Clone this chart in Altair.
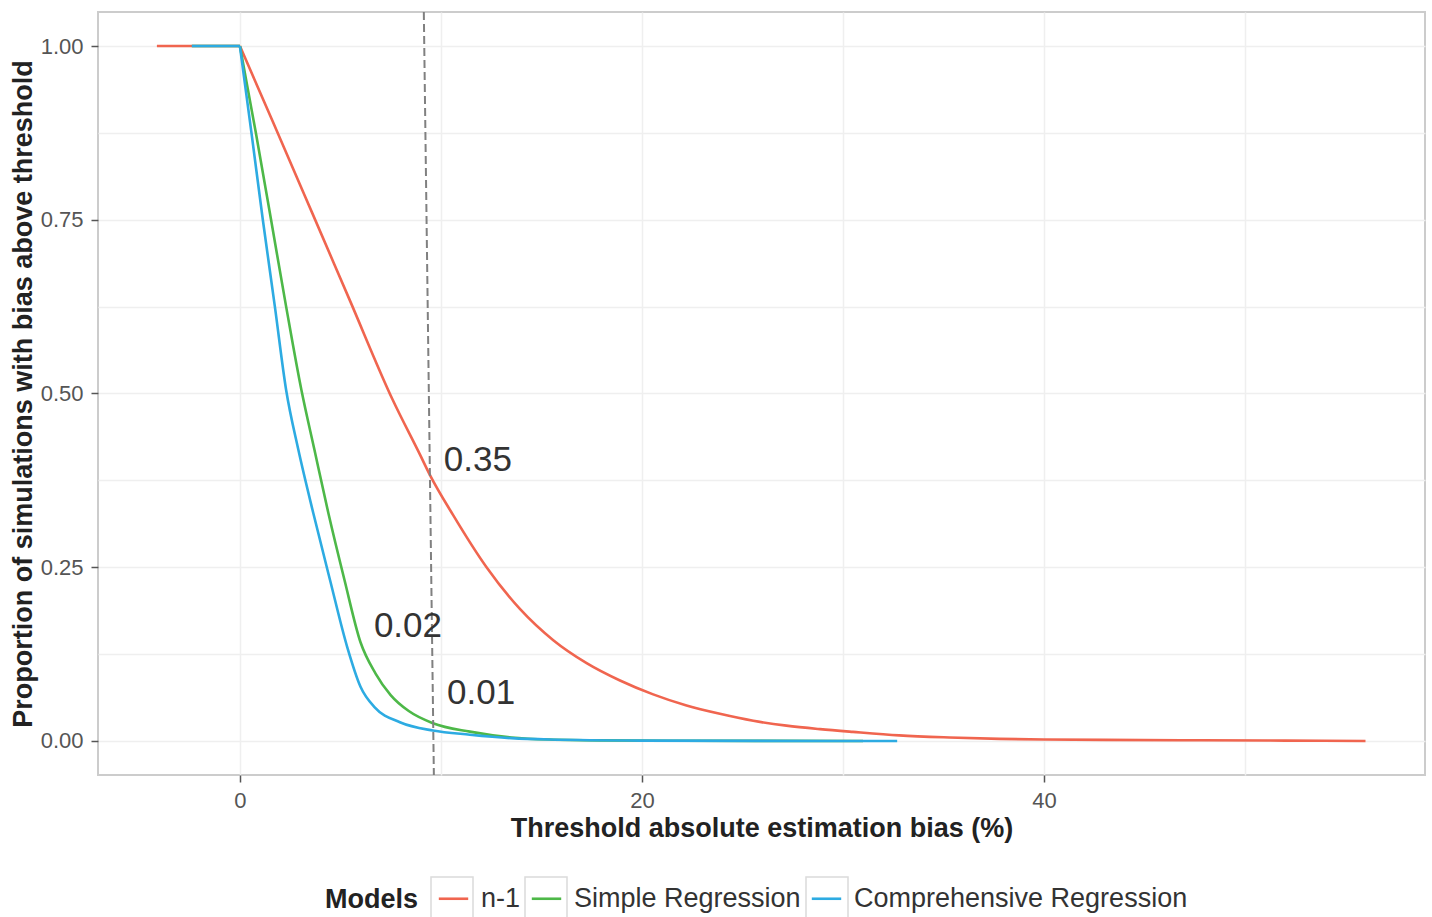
import altair as alt
import pandas as pd

# ---------------- data ----------------
models = ["n-1", "Simple Regression", "Comprehensive Regression"]
model_colors = ["#F0654F", "#4DB848", "#2DABE2"]

n1_x = [-4.13, 0, 1.64, 3.58, 5.47, 7.6, 8.96, 9.45, 10.61, 12.27, 13.93, 15.59,
        17.25, 18.91, 20.56, 22.22, 23.88, 25.54, 27.19, 28.86, 30.5, 32.8, 35.3,
        37.8, 40, 43, 47.8, 52, 56]
n1_y = [1, 1, 0.891, 0.761, 0.634, 0.491, 0.412, 0.383, 0.325, 0.250, 0.190, 0.145,
        0.112, 0.087, 0.067, 0.051, 0.039, 0.029, 0.022, 0.017, 0.013, 0.008, 0.005,
        0.003, 0.002, 0.0015, 0.001, 0.0005, 0.0]

sr_x = [-2.39, 0, 0.8, 1.55, 2.3, 3.06, 3.7, 4.4, 5.2, 6.0, 6.75, 7.5, 8.4, 9.6,
        11.44, 13.5, 15.4, 18, 22, 26, 31]
sr_y = [1, 1, 0.874, 0.75, 0.625, 0.505, 0.42, 0.328, 0.232, 0.142, 0.097, 0.066,
        0.043, 0.0255, 0.0134, 0.005, 0.002, 0.0008, 0.0003, 0.0001, 0.0]

cr_x = [-2.39, 0, 0.58, 1.14, 1.74, 2.3, 2.9, 3.65, 4.48, 5.35, 6.0, 6.72, 7.96,
        9.6, 11.44, 13.5, 15.4, 20, 26, 32.7]
cr_y = [1, 1, 0.874, 0.75, 0.625, 0.505, 0.42, 0.328, 0.232, 0.134, 0.078, 0.048,
        0.027, 0.015, 0.009, 0.004, 0.002, 0.0005, 0.0001, 0.0]

# dashed threshold line (top end, bottom end)
thr_x = [9.15, 9.65]
thr_y = [1.049, -0.049]

# annotations
note_text = ["0.35", "0.02", "0.01"]
note_x = [11.84, 8.36, 12.0]
note_y = [0.404, 0.165, 0.069]

x_domain = [-7.06, 58.96]
y_domain = [-0.049, 1.049]
x_grid_values = [0, 10, 20, 30, 40, 50]
y_grid_values = [0, 0.125, 0.25, 0.375, 0.5, 0.625, 0.75, 0.875, 1.0]

# ---------------- tables ----------------
rows = []
for name, xs, ys in zip(models, [n1_x, sr_x, cr_x], [n1_y, sr_y, cr_y]):
    for i, (xv, yv) in enumerate(zip(xs, ys)):
        # the flat run before x = 0 and the falling curve are drawn as two pieces
        if i <= 1:
            rows.append({"model": name, "x": xv, "y": yv, "i": i, "seg": "flat"})
        if i >= 1:
            rows.append({"model": name, "x": xv, "y": yv, "i": i, "seg": "curve"})
curves = pd.DataFrame(rows)

thr = pd.DataFrame({"x": [thr_x[0]], "x2": [thr_x[1]], "y": [thr_y[0]], "y2": [thr_y[1]]})
notes = pd.DataFrame({"text": note_text, "x": note_x, "y": note_y})

FONT = "Liberation Sans"
BOX_PATH = "M-1,-1H1V1H-1Z"
LINE_PATH = "M-0.7,0H0.7"
KEY_SIZE = 1764
LEG_X = 227
LEG_Y = 864
TITLE_W = 93      # width of the bold "Models" legend title
TITLE_PAD = 12

x_scale = alt.Scale(domain=x_domain, nice=False, zero=False)
y_scale = alt.Scale(domain=y_domain, nice=False, zero=False)

x_axis = alt.Axis(
    values=x_grid_values,
    labelExpr="datum.value % 20 === 0 ? format(datum.value, 'd') : ''",
    tickOpacity={"condition": {"test": "datum.value % 20 !== 0", "value": 0}, "value": 1},
    title="Threshold absolute estimation bias (%)",
    titlePadding=4,
)
y_axis = alt.Axis(
    values=y_grid_values,
    labelExpr="(datum.value * 4) % 1 !== 0 ? '' : format(datum.value, '.2f')",
    tickOpacity={"condition": {"test": "(datum.value * 4) % 1 !== 0", "value": 0}, "value": 1},
    title="Proportion of simulations with bias above threshold",
    titlePadding=3,
)

legend_common = dict(
    orient="none",
    legendY=LEG_Y,
    direction="horizontal",
    labelFontSize=27,
    labelLimit=0,
    labelOffset=5,
    columnPadding=3,
    symbolSize=KEY_SIZE,
)

lines = alt.Chart(curves).mark_line(strokeWidth=2.6, clip=True, interpolate="monotone").encode(
    x=alt.X("x:Q", scale=x_scale, axis=x_axis),
    y=alt.Y("y:Q", scale=y_scale, axis=y_axis),
    color=alt.Color(
        "model:N",
        scale=alt.Scale(domain=models, range=model_colors),
        sort=models,
        legend=alt.Legend(
            title="Models",
            legendX=LEG_X,
            titleOrient="left",
            titleAnchor="middle",
            titleBaseline="line-top",
            titleLineHeight=12,
            titleFontSize=27,
            titleFontWeight="bold",
            titlePadding=TITLE_PAD,
            titleColor="#222222",
            labelColor="#333333",
            symbolType=LINE_PATH,
            symbolStrokeWidth=2.6,
            **legend_common,
        ),
    ),
    detail="seg:N",
    order="i:Q",
)

# legend key boxes (empty layer, only its legend is drawn)
box_domain = [m + " " for m in models]
boxes = alt.Chart(curves).transform_filter("false").transform_calculate(
    box="datum.model + ' '"
).mark_point(filled=False, color="#cccccc", size=KEY_SIZE).encode(
    x="x:Q",
    y="y:Q",
    shape=alt.Shape(
        "box:N",
        scale=alt.Scale(domain=box_domain, range=[BOX_PATH] * len(models)),
        sort=box_domain,
        legend=alt.Legend(
            title=None,
            legendX=LEG_X + TITLE_W + TITLE_PAD,
            labelColor="transparent",
            labelExpr="trim(datum.label)",
            symbolType=BOX_PATH,
            symbolFillColor="transparent",
            symbolStrokeColor="#cccccc",
            symbolStrokeWidth=1.5,
            **legend_common,
        ),
    ),
)

rule = alt.Chart(thr).mark_rule(color="#808080", strokeWidth=2, strokeDash=[8, 4]).encode(
    x="x:Q", x2="x2:Q", y="y:Q", y2="y2:Q"
)

texts = alt.Chart(notes).mark_text(fontSize=35, color="#333333", font=FONT).encode(
    x="x:Q", y="y:Q", text="text:N"
)

chart = alt.layer(lines, boxes, rule, texts).resolve_legend(
    color="independent", shape="independent"
).properties(
    width=1327,
    height=763,
    autosize=alt.AutoSizeParams(type="none"),
    padding={"left": 98, "top": 12, "right": 7, "bottom": 142},
).configure(
    font=FONT,
    background="white",
).configure_view(
    stroke="#cccccc",
    strokeWidth=2,
).configure_axis(
    grid=True,
    gridColor="#efefef",
    gridWidth=1.5,
    domain=False,
    tickColor="#555555",
    tickSize=7,
    tickWidth=1.5,
    labelFontSize=22,
    labelColor="#555555",
    labelPadding=8,
    titleFontSize=27,
    titleFontWeight="bold",
    titleColor="#222222",
)

chart.save("out.html", embed_options={"renderer": "svg", "actions": False})
